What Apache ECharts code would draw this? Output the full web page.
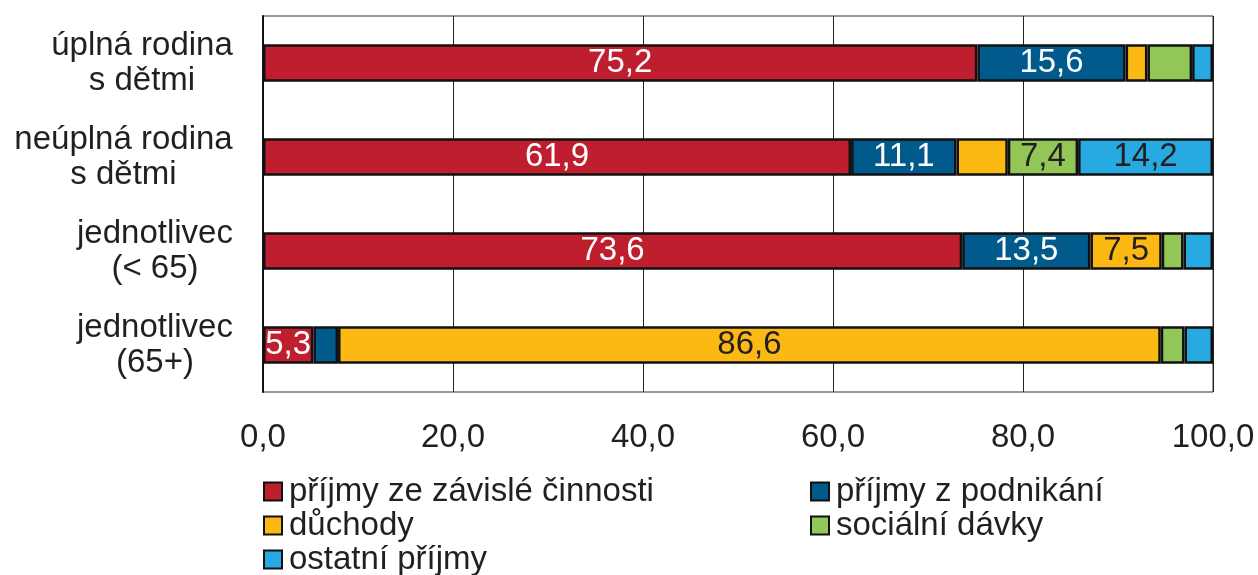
<!DOCTYPE html>
<html>
<head>
<meta charset="utf-8">
<script src="https://cdn.jsdelivr.net/npm/echarts@6/dist/echarts.min.js"></script>
<style>
  html, body { margin: 0; padding: 0; background: #fff; }
  #main { width: 1258px; height: 575px; }
</style>
</head>
<body>
<div id="main"></div>
<script>
// categories, top to bottom
var categories = ['úplná rodina\ns dětmi', 'neúplná rodina\ns dětmi', 'jednotlivec\n(< 65)', 'jednotlivec\n(65+)'];
var seriesNames = ['příjmy ze závislé činnosti', 'příjmy z podnikání', 'důchody', 'sociální dávky', 'ostatní příjmy'];
var zavisla = [75.2, 61.9, 73.6, 5.3];
var podnikani = [15.6, 11.1, 13.5, 2.6];
var duchody = [2.3, 5.4, 7.5, 86.6];
var davky = [4.7, 7.4, 2.3, 2.5];
var ostatni = [2.2, 14.2, 3.1, 3.0];
var xTicks = [0, 20, 40, 60, 80, 100];

var colors = ['#BE1E2D', '#005A8C', '#FDB913', '#92C656', '#27AAE1'];
var labelColors = ['#fff', '#fff', '#231F20', '#231F20', '#231F20'];
var values = [zavisla, podnikani, duchody, davky, ostatni];
var font = 'Liberation Sans, Arial, sans-serif';
var fs = 33;

var chart = echarts.init(document.getElementById('main'));

// category labels: block right-aligned, lines centred inside the block
var ctx = document.createElement('canvas').getContext('2d');
ctx.font = fs + 'px ' + font;
var rich = {};
categories.forEach(function (c, k) {
  var w = Math.max.apply(null, c.split('\n').map(function (s) { return ctx.measureText(s).width; }));
  rich['c' + k] = { width: Math.ceil(w), align: 'center', fontFamily: font, fontSize: fs, lineHeight: 35, color: '#231F20' };
});

var series = values.map(function (vals, i) {
  return {
    name: seriesNames[i],
    type: 'bar',
    stack: 'total',
    barWidth: '40%',
    data: vals,
    itemStyle: { color: colors[i], borderColor: '#111', borderWidth: 2.5 },
    label: {
      show: true,
      position: 'inside',
      color: labelColors[i],
      fontFamily: font,
      fontSize: fs,
      formatter: function (p) {
        if (i > 0 && p.value < 7) return '';
        return p.value.toFixed(1).replace('.', ',');
      }
    }
  };
});

// legend placement: [left, row]
var legendPos = [[258, 0], [805, 0], [258, 1], [805, 1], [258, 2]];
var legends = seriesNames.map(function (name, i) {
  return {
    left: legendPos[i][0],
    top: 470 + legendPos[i][1] * 34,
    data: [name],
    itemWidth: 18,
    itemHeight: 18,
    icon: 'rect',
    textStyle: { fontFamily: font, fontSize: fs, color: '#231F20', padding: [0, 0, 0, 2] },
    itemStyle: { borderColor: '#111', borderWidth: 2 }
  };
});

var option = {
  animation: false,
  backgroundColor: '#fff',
  legend: legends,
  grid: {
    left: 263, right: 45, top: 16, bottom: 183,
    show: true, borderColor: '#333', borderWidth: 1
  },
  xAxis: {
    type: 'value',
    min: xTicks[0],
    max: xTicks[xTicks.length - 1],
    interval: 20,
    axisLine: { show: false },
    axisTick: { show: false },
    splitLine: { show: true, lineStyle: { color: '#222', width: 1 } },
    axisLabel: {
      margin: 29,
      fontFamily: font,
      fontSize: fs,
      color: '#231F20',
      formatter: function (v) { return v.toFixed(1).replace('.', ','); }
    }
  },
  yAxis: {
    type: 'category',
    inverse: true,
    data: categories,
    axisLine: { show: true, lineStyle: { color: '#111', width: 2 } },
    axisTick: { show: false },
    axisLabel: {
      margin: 30,
      align: 'right',
      fontFamily: font,
      fontSize: fs,
      lineHeight: 35,
      color: '#231F20',
      rich: rich,
      formatter: function (v, k) {
        return v.split('\n').map(function (s) { return '{c' + k + '|' + s + '}'; }).join('\n');
      }
    }
  },
  series: series
};

chart.setOption(option);
</script>
</body>
</html>
